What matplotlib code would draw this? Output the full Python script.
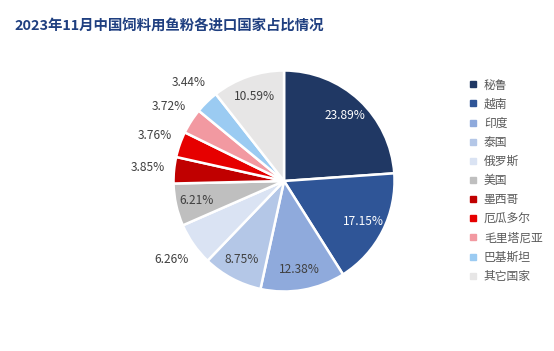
import numpy as np
import matplotlib
matplotlib.use('Agg')
import matplotlib.pyplot as plt
from matplotlib.lines import Line2D

plt.rcParams['font.family'] = ['Noto Sans CJK SC', 'DejaVu Sans']

countries = ['秘鲁', '越南', '印度', '泰国', '俄罗斯', '美国', '墨西哥',
             '厄瓜多尔', '毛里塔尼亚', '巴基斯坦', '其它国家']
shares = [23.89, 17.15, 12.38, 8.75, 6.26, 6.21, 3.85, 3.76, 3.72, 3.44, 10.59]
colors = ['#203864', '#2F5597', '#8FAADC', '#B4C7E7', '#DAE3F3', '#BFBFBF',
          '#C00000', '#E60000', '#F299A1', '#9BCBF2', '#E7E6E6']
# label outside the slice?
outside = [False, False, False, False, True, False, True, True, True, True, False]
white_text = [True, True, False, False, False, False, False, False, False, False, False]

fig = plt.figure(figsize=(5.54, 3.51), dpi=100)
ax = fig.add_axes([0.2135, 0.0121, 0.5984, 0.9444])

wedges, _ = ax.pie(shares, colors=colors, startangle=90, counterclock=False,
                   radius=1.0, wedgeprops=dict(edgecolor='white', linewidth=1.8))

for w, v, out, wt in zip(wedges, shares, outside, white_text):
    ang = np.deg2rad((w.theta1 + w.theta2) / 2)
    r = 1.24 if out else 0.81
    ax.text(r * np.cos(ang), r * np.sin(ang), f'{v:.2f}%', ha='center', va='center',
            fontsize=8.6, color='white' if wt else '#404040')

ax.set_xlim(-1.5, 1.5)
ax.set_ylim(-1.5, 1.5)
ax.set_aspect('equal')
ax.axis('off')

fig.text(0.027, 0.925, '2023年11月中国饲料用鱼粉各进口国家占比情况', fontsize=10.4,
         fontweight='bold', color='#1F3F80', va='center')

handles = [Line2D([], [], marker='s', linestyle='none', markersize=5,
                  markerfacecolor=c, markeredgecolor=c) for c in colors]
fig.legend(handles, countries, loc='upper left', bbox_to_anchor=(0.836, 0.79),
           frameon=False, fontsize=8.5, labelspacing=0.52, handlelength=0.8,
           handletextpad=0.55, borderaxespad=0, labelcolor='#595959')

fig.savefig('out.png', dpi=100)
